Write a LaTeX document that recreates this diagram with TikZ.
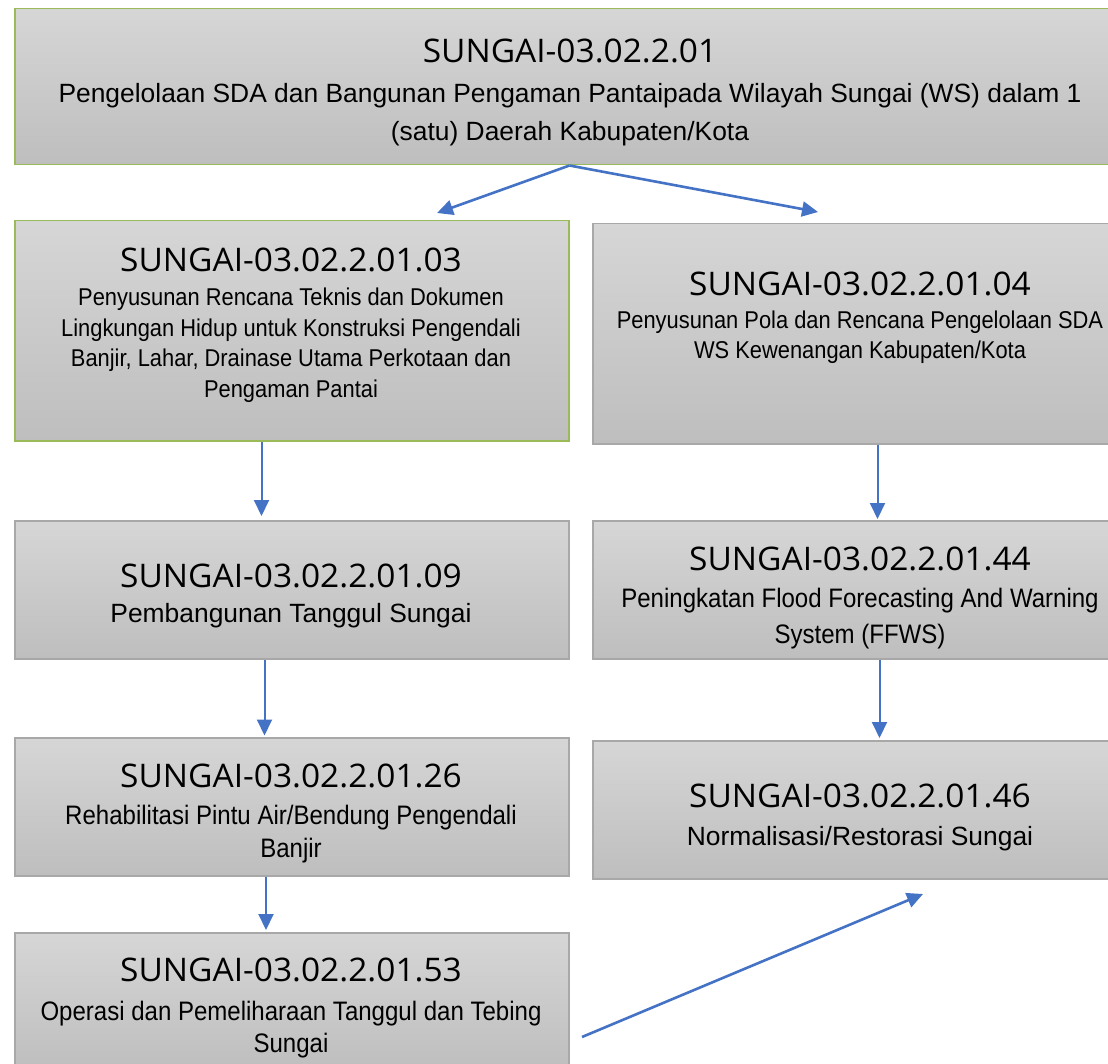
\documentclass[tikz,border=0pt]{standalone}
\usepackage{fontspec}
\usetikzlibrary{arrows.meta,positioning}
\newfontfamily\titlefont[FakeStretch=1.03]{Open Sans}
\newfontfamily\descfont{Liberation Sans}
\newfontfamily\descnarrow[FakeStretch=0.9]{Liberation Sans}
\definecolor{boxtop}{RGB}{214,214,214}
\definecolor{boxbot}{RGB}{190,190,190}
\definecolor{edgegreen}{RGB}{155,187,89}
\definecolor{edgegray}{RGB}{168,168,168}
\definecolor{arrowblue}{RGB}{68,114,196}

\tikzset{
  box/.style={rectangle, draw=edgegray, line width=1.5pt, top color=boxtop, bottom color=boxbot, anchor=north west, inner sep=0},
  greenbox/.style={box, draw=edgegreen},
  code/.style={font=\titlefont\fontsize{32.5}{40}\selectfont, anchor=base, inner sep=0},
  desc/.style={align=center, anchor=north, inner sep=0},
  descwide/.style={desc, font=\descfont\fontsize{26.4}{#1}\selectfont},
  descsmall/.style={desc, font=\descnarrow\fontsize{24.3}{30.7}\selectfont},
  descmid/.style={desc, font=\descnarrow\fontsize{26.7}{#1}\selectfont},
  flow/.style={color=arrowblue, line width=2pt, -{Triangle[length=16pt,width=15pt]}}
}

\begin{document}
\begin{tikzpicture}[x=1pt,y=-1pt]
  \useasboundingbox (0,0) rectangle (1108,1064);
  \fill[white] (0,0) rectangle (1108,1064);

  % boxes
  \node[greenbox, minimum width=1113pt, minimum height=156pt] (top) at (14,8) {};
  \node[greenbox, minimum width=554pt, minimum height=220pt] (b03) at (14,220) {};
  \node[box, minimum width=536pt, minimum height=220pt] (b04) at (592,223) {};
  \node[box, minimum width=554pt, minimum height=138pt] (b09) at (14,520) {};
  \node[box, minimum width=536pt, minimum height=138pt] (b44) at (592,520) {};
  \node[box, minimum width=554pt, minimum height=138pt] (b26) at (14,737) {};
  \node[box, minimum width=536pt, minimum height=138pt] (b46) at (592,740) {};
  \node[box, minimum width=554pt, minimum height=138pt] (b53) at (14,932) {};

  % texts
  \node[code] (top_c) at (570,63) {SUNGAI-03.02.2.01};
  \node[descwide=38.3] (top_d) at (570,82.7) {Pengelolaan SDA dan Bangunan Pengaman Pantaipada Wilayah Sungai (WS) dalam 1\\(satu) Daerah Kabupaten/Kota};
  \node[code] (b03_c) at (291,272) {SUNGAI-03.02.2.01.03};
  \node[descsmall] (b03_d) at (291,287.5) {Penyusunan Rencana Teknis dan Dokumen\\Lingkungan Hidup untuk Konstruksi Pengendali\\Banjir, Lahar, Drainase Utama Perkotaan dan\\Pengaman Pantai};
  \node[code] (b04_c) at (860,295.7) {SUNGAI-03.02.2.01.04};
  \node[descsmall] (b04_d) at (860,310.2) {Penyusunan Pola dan Rencana Pengelolaan SDA\\WS Kewenangan Kabupaten/Kota};
  \node[code] (b09_c) at (291,587.3) {SUNGAI-03.02.2.01.09};
  \node[descwide=30, anchor=base] (b09_d) at (291,622.7) {Pembangunan Tanggul Sungai};
  \node[code] (b44_c) at (860,570) {SUNGAI-03.02.2.01.44};
  \node[descmid=36.7] (b44_d) at (860,587.5) {Peningkatan Flood Forecasting And Warning\\System (FFWS)};
  \node[code] (b26_c) at (291,787.7) {SUNGAI-03.02.2.01.26};
  \node[descmid=33.3] (b26_d) at (291,804.8) {Rehabilitasi Pintu Air/Bendung Pengendali\\Banjir};
  \node[code] (b46_c) at (860,807.3) {SUNGAI-03.02.2.01.46};
  \node[descwide=30, anchor=base] (b46_d) at (860,845) {Normalisasi/Restorasi Sungai};
  \node[code] (b53_c) at (291,981.7) {SUNGAI-03.02.2.01.53};
  \node[descmid=31.7] (b53_d) at (291,1000.8) {Operasi dan Pemeliharaan Tanggul dan Tebing\\Sungai};

  % arrow ends
  \coordinate (to03) at (437,213);
  \coordinate (to04) at (818,212);
  \coordinate (to09) at (261.5,516);
  \coordinate (to44) at (877.5,519);
  \coordinate (to26) at (264.5,735.5);
  \coordinate (to46) at (879.5,738);
  \coordinate (to53) at (266,930);
  \coordinate (from53) at (582,1037);
  \coordinate (up46) at (923,894);

  \path[flow]
    (top.south -| b03.east) edge[line width=2.6pt] (to03)
    (top.south -| b03.east) edge[line width=2.6pt] (to04)
    (b03.south -| to09) edge (to09)
    (b04.south -| to44) edge (to44)
    (b09.south -| to26) edge (to26)
    (b44.south -| to46) edge (to46)
    (b26.south -| to53) edge (to53)
    (from53) edge[line width=2.6pt] (up46)
    ;
\end{tikzpicture}
\end{document}
